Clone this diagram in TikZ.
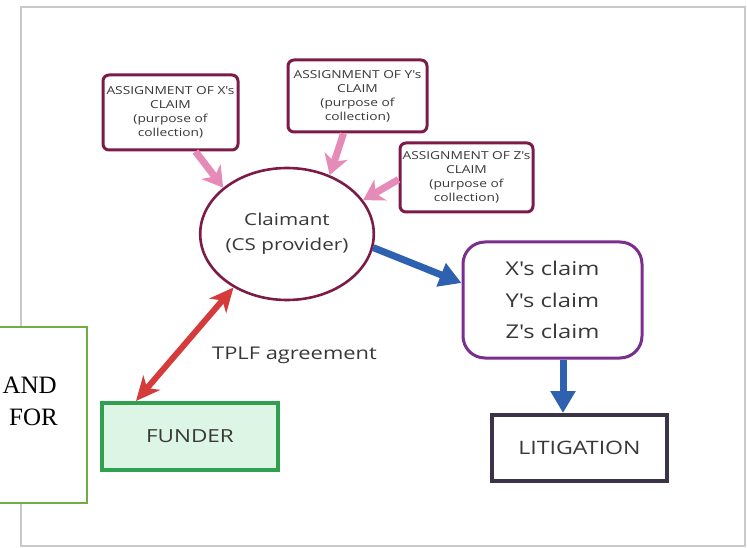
\documentclass[tikz,border=0pt]{standalone}
\usepackage{fontspec}
\setmainfont{Open Sans}[FakeStretch=1.25]
\newfontfamily\sidefont{Liberation Serif}
\usetikzlibrary{arrows.meta,shapes.geometric}

\definecolor{framegray}{HTML}{C9C9C9}
\definecolor{maroon}{HTML}{7D1B48}
\definecolor{pinkA}{HTML}{E68AB8}
\definecolor{blueA}{HTML}{2E62B0}
\definecolor{purpleA}{HTML}{7A2E8E}
\definecolor{darkbox}{HTML}{3B3448}
\definecolor{fundgreen}{HTML}{2EA04F}
\definecolor{fundfill}{HTML}{DCF5E5}
\definecolor{redA}{HTML}{D63B3B}
\definecolor{textgray}{HTML}{383838}
\definecolor{sidegreen}{HTML}{70AD47}

% straight apostrophe
\newcommand{\ap}{\textquotesingle}

\tikzset{
  assign/.style={draw=maroon, line width=3pt, rounded corners=6pt, fill=white,
    align=center, inner sep=0pt, text=textgray,
    font=\fontsize{11}{14}\selectfont},
  pinkarrow/.style={draw=pinkA, line width=7pt,
    -{Stealth[length=20pt, width=24pt, inset=6pt]}},
  bluearrow/.style={draw=blueA, line width=7pt,
    -{Triangle[length=22pt, width=24pt]}},
  redarrow/.style={draw=redA, line width=6pt,
    {Stealth[length=24pt, width=22pt, inset=7pt]}-{Stealth[length=24pt, width=22pt, inset=7pt]}},
  plainbox/.style={inner sep=0pt, text=textgray, align=center},
  sidetext/.style={inner sep=0pt, anchor=east, font=\sidefont\fontsize{25}{30}\selectfont}
}

\begin{document}
\begin{tikzpicture}[x=1pt,y=-1pt]
\useasboundingbox (0,0) rectangle (747,548);

% page frame
\draw[framegray, line width=1.6pt] (21,7) rectangle (745,546);

% assignment boxes
\node[assign, minimum width=135pt, minimum height=75pt] (boxX) at (170.5,112.5)
  {ASSIGNMENT OF X\ap s\\CLAIM\\(purpose of\\collection)};
\node[assign, minimum width=139pt, minimum height=72pt] (boxY) at (357.5,96)
  {ASSIGNMENT OF Y\ap s\\CLAIM\\(purpose of\\collection)};
\node[assign, minimum width=133pt, minimum height=69pt] (boxZ) at (466.5,177.5)
  {ASSIGNMENT OF Z\ap s\\CLAIM\\(purpose of\\collection)};

% claimant
\node[ellipse, draw=maroon, line width=2.6pt, fill=white, minimum width=166pt,
  minimum height=132pt, plainbox, font=\fontsize{16.5}{25}\selectfont]
  (claimant) at (287,234) {Claimant\\(CS provider)};

% claims
\node[draw=purpleA, line width=3pt, rounded corners=22pt, fill=white,
  minimum width=179pt, minimum height=116pt, plainbox,
  font=\fontsize{19}{31.5}\selectfont]
  (claims) at (552.5,300) {X\ap s claim\\Y\ap s claim\\Z\ap s claim};

% litigation
\node[draw=darkbox, line width=4pt, fill=white, minimum width=175pt,
  minimum height=66pt, plainbox, font=\fontsize{18.5}{22}\selectfont]
  (litigation) at (579.5,448) {LITIGATION};

% funder
\node[draw=fundgreen, line width=4pt, fill=fundfill, minimum width=176pt,
  minimum height=67pt, plainbox, font=\fontsize{18}{22}\selectfont]
  (funder) at (190,436.5) {FUNDER};

\node[plainbox, font=\fontsize{17.5}{21}\selectfont] (tplf) at (294.5,355) {TPLF agreement};

% connectors
\draw[pinkarrow] ([xshift=25pt]boxX.south) -- (claimant.144);
\draw[pinkarrow] ([xshift=-14pt]boxY.south) -- (claimant.54);
\draw[pinkarrow] ([yshift=-2pt]boxZ.west) -- (claimant.24);
\draw[bluearrow] (claimant.-9) -- ([yshift=17pt]claims.west);
\draw[bluearrow] ([xshift=10.5pt]claims.south) -- ([xshift=10.5pt]claims.south |- litigation.north);
\draw[redarrow] ([xshift=36pt]funder.north west) -- (claimant.225.5);

% side box
\node[draw=sidegreen, line width=2pt, fill=white, minimum width=97pt,
  minimum height=176pt, inner sep=0pt] (sidebox) at (38.5,415) {};
\node[sidetext] (andtxt) at (57,385) {AND};
\node[sidetext] (fortxt) at (58,417) {FOR};
\end{tikzpicture}
\end{document}
